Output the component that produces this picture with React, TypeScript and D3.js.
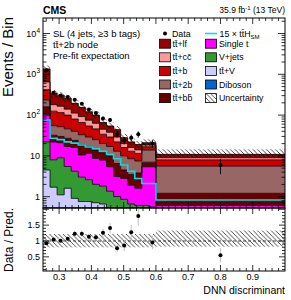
import React from "react";
import * as d3 from "d3";

// ---------- data ----------
const binEdges = [0.25, 0.271875, 0.29375, 0.315625, 0.3375, 0.359375, 0.38125, 0.403125, 0.425,
  0.446875, 0.46875, 0.490625, 0.5125, 0.534375, 0.55625, 0.578125, 0.6, 1.0];

const diboson = [0.02, 0.01, 0.01, 0.01, 0.01, 0.01, 0.01, 0.01, 0.01, 0.01, 0.01, 0.01, 0.01, 0.01, 0.01, 0.01, 0.01];
const ttV = [4.5, 1.7, 1.1, 1.6, 0.9, 0.75, 0.75, 0.7, 0.65, 0.5, 0.45, 0.4, 0.35, 0.3, 0.3, 0.3, 0.25];
const vJets = [17.5, 6.3, 7.9, 3.9, 3.3, 2.25, 1.85, 1.3, 1.15, 0.85, 0.55, 0.45, 0.3, 0.3, 0.3, 0.25, 0.15];
const singleT = [83, 14, 12, 11.5, 11.8, 7.5, 8.9, 6.7, 6.1, 4.05, 2.1, 1.95, 1.25, 1.0, 4.8, 4.85, 0.2];
const ttbb = [55, 10, 9, 10, 8, 8.5, 5.5, 5.3, 4.1, 4.6, 3.4, 1.7, 1.6, 2.2, 1.6, 1.6, 0.6];
const tt2b = [75, 23, 22, 19, 16, 14, 12, 11, 8, 7, 6.5, 5.5, 5, 3.7, 6.9, 6.9, 4.4];
const ttb = [185, 70, 63, 54, 40, 33, 25, 21, 14, 12, 9, 6, 4.5, 4, 2.9, 2.9, 2.4];
const ttcc = [230, 55, 50, 40, 32, 26, 21, 17, 11, 9, 7, 4, 3, 2.5, 1.7, 1.7, 1.0];
const ttlf = [705, 157, 135, 118, 82, 63, 46, 37, 21, 16, 15, 8, 6, 5, 2.5, 2.5, 1.9];

const ttHx15 = [76, 27, 25, 22, 20.5, 18.5, 16.5, 15, 13, 11, 8.5, 6, 4.2, 2.8, 2.1, 2.1, 0.83];

const dataCounts: (number | null)[] = [1260, 354, 303, 276, 239, 191, 137, 112, 83, 76, 34, 24, 28, 34, null, 20, 6];

const uncUp = [0.22, 0.22, 0.22, 0.22, 0.22, 0.22, 0.22, 0.22, 0.22, 0.22, 0.22, 0.22, 0.22, 0.22, 0.22, 0.22, 0.33];
const uncDown = [0.2, 0.2, 0.2, 0.2, 0.2, 0.2, 0.2, 0.2, 0.2, 0.2, 0.2, 0.2, 0.2, 0.2, 0.2, 0.2, 0.18];

const xTickLabels = ["0.3", "0.4", "0.5", "0.6", "0.7", "0.8", "0.9"];
const ratioTickLabels = ["0.5", "1", "1.5"];

const processKeys = ["diboson", "ttV", "vJets", "singleT", "ttbb", "tt2b", "ttb", "ttcc", "ttlf"];
const processValues: Record<string, number[]> = { diboson, ttV, vJets, singleT, ttbb, tt2b, ttb, ttcc, ttlf };
const processColors: Record<string, string> = {
  diboson: "#0066cc", ttV: "#ccccff", vJets: "#339933", singleT: "#ff00ff", ttbb: "#660000",
  tt2b: "#996666", ttb: "#cc0000", ttcc: "#ff9999", ttlf: "#990000",
};

// ---------- layout ----------
const W = 291, H = 300;
const L = 43, R = 285, T = 18, MB = 208, RB = 271;
const FONT = "'Liberation Sans', Arial, Helvetica, sans-serif";
const TT = "tt\u0304";

export default function App() {
  const x = d3.scaleLinear().domain([0.25, 1.0]).range([L, R]);
  const y = d3.scaleLog().domain([0.528, 24000]).range([MB, T]).clamp(true);
  const yr = d3.scaleLinear().domain([0.054, 2.04]).range([RB, MB]);

  const nb = binEdges.length - 1;
  const rows = d3.range(nb).map((i) => {
    const o: Record<string, number> = {};
    processKeys.forEach((k) => (o[k] = processValues[k][i]));
    return o;
  });
  const series = d3.stack<Record<string, number>>().keys(processKeys)(rows);
  const totals = rows.map((r) => d3.sum(processKeys, (k) => r[k]));

  const sy = (v: number) => y(Math.max(v, 1e-6));

  const stepPts = (s: any) => {
    const pts: [number, number, number][] = [];
    s.forEach((d: any, i: number) => {
      pts.push([binEdges[i], d[0], d[1]]);
      pts.push([binEdges[i + 1], d[0], d[1]]);
    });
    return pts;
  };
  const area = d3.area<[number, number, number]>().x((p) => x(p[0])).y0((p) => sy(p[1])).y1((p) => sy(p[2]));
  const topLine = d3.line<[number, number, number]>().x((p) => x(p[0])).y((p) => sy(p[2]));

  const sigPts: [number, number][] = [];
  ttHx15.forEach((v, i) => {
    sigPts.push([binEdges[i], v]);
    sigPts.push([binEdges[i + 1], v]);
  });
  const sigLine = d3.line<[number, number]>().x((p) => x(p[0])).y((p) => sy(p[1]));

  // ticks
  const xMajor = xTickLabels.map((t) => +t);
  const xMinor = d3.range(0.26, 1.0, 0.02).filter((v) => !xMajor.some((m) => Math.abs(m - v) < 1e-6));
  const yMajor = [1, 10, 100, 1000, 10000];
  const yMinor: number[] = [];
  for (let e = -1; e <= 4; e++) for (let k = 2; k <= 9; k++) {
    const v = k * Math.pow(10, e);
    if (v > 0.528 && v < 24000) yMinor.push(v);
  }
  const rMajor = [0.5, 1, 1.5, 2];
  const rMinor = d3.range(0.1, 2.04, 0.1).filter((v) => !rMajor.some((m) => Math.abs(m - v) < 1e-6));

  const centers = d3.range(nb).map((i) => (binEdges[i] + binEdges[i + 1]) / 2);

  return (
    <svg width={W} height={H} style={{ position: "absolute", left: 0, top: 0, background: "#fff" }} fontFamily={FONT}>
      <defs>
        <pattern id="hatch" patternUnits="userSpaceOnUse" width="4.5" height="4.5">
          <path d="M-1,-1 L5.5,5.5 M-1,3.5 L1,5.5 M3.5,-1 L5.5,1" stroke="#000" strokeWidth="0.7" />
        </pattern>
        <clipPath id="mainClip"><rect x={L} y={T} width={R - L} height={MB - T} /></clipPath>
        <clipPath id="ratioClip"><rect x={L} y={MB} width={R - L} height={RB - MB} /></clipPath>
      </defs>
      <rect width={W} height={H} fill="#fff" />

      {/* main panel */}
      <g clipPath="url(#mainClip)">
        {series.map((s) => (
          <path key={s.key} d={area(stepPts(s)) || ""} fill={processColors[s.key]} />
        ))}
        {series.map((s) => (
          <path key={s.key + "l"} d={topLine(stepPts(s)) || ""} fill="none" stroke="#000" strokeWidth={0.8} />
        ))}
        {totals.map((t, i) => (
          <rect key={"u" + i} x={x(binEdges[i])} width={x(binEdges[i + 1]) - x(binEdges[i])}
            y={sy(t * (1 + uncUp[i]))} height={sy(t * (1 - uncDown[i])) - sy(t * (1 + uncUp[i]))} fill="url(#hatch)" />
        ))}
        <path d={sigLine(sigPts) || ""} fill="none" stroke="#00e0e8" strokeWidth={1.6} />
        {dataCounts.map((d, i) => d == null ? null : (
          <g key={"d" + i}>
            <line x1={x(centers[i])} x2={x(centers[i])} y1={sy(d - Math.sqrt(d))} y2={sy(d + Math.sqrt(d))} stroke="#000" strokeWidth={0.9} />
            <circle cx={x(centers[i])} cy={sy(d)} r={2} fill="#000" />
          </g>
        ))}
      </g>

      {/* main frame + ticks */}
      <rect x={L} y={T} width={R - L} height={MB - T} fill="none" stroke="#000" strokeWidth={1} />
      {xMajor.map((v) => (
        <g key={"mx" + v}>
          <line x1={x(v)} x2={x(v)} y1={MB} y2={MB - 6} stroke="#000" strokeWidth={0.8} />
          <line x1={x(v)} x2={x(v)} y1={T} y2={T + 6} stroke="#000" strokeWidth={0.8} />
        </g>
      ))}
      {xMinor.map((v) => (
        <g key={"mnx" + v}>
          <line x1={x(v)} x2={x(v)} y1={MB} y2={MB - 3} stroke="#000" strokeWidth={0.8} />
          <line x1={x(v)} x2={x(v)} y1={T} y2={T + 3} stroke="#000" strokeWidth={0.8} />
        </g>
      ))}
      {yMajor.map((v) => (
        <g key={"my" + v}>
          <line x1={L} x2={L + 7} y1={y(v)} y2={y(v)} stroke="#000" strokeWidth={0.8} />
          <line x1={R} x2={R - 7} y1={y(v)} y2={y(v)} stroke="#000" strokeWidth={0.8} />
          <text x={40} y={y(v) + 3} fontSize={9} textAnchor="end">
            {v < 100 ? String(v) : (
              <>
                10<tspan dy={-4} fontSize={6.5}>{String(Math.round(Math.log10(v)))}</tspan>
              </>
            )}
          </text>
        </g>
      ))}
      {yMinor.map((v) => (
        <g key={"mny" + v}>
          <line x1={L} x2={L + 3.5} y1={y(v)} y2={y(v)} stroke="#000" strokeWidth={0.8} />
          <line x1={R} x2={R - 3.5} y1={y(v)} y2={y(v)} stroke="#000" strokeWidth={0.8} />
        </g>
      ))}

      {/* ratio panel */}
      <g clipPath="url(#ratioClip)">
        {totals.map((t, i) => (
          <rect key={"ru" + i} x={x(binEdges[i])} width={x(binEdges[i + 1]) - x(binEdges[i])}
            y={yr(1 + uncUp[i])} height={yr(1 - uncDown[i]) - yr(1 + uncUp[i])} fill="url(#hatch)" />
        ))}
        <line x1={L} x2={R} y1={yr(1)} y2={yr(1)} stroke="#000" strokeWidth={0.7} strokeDasharray="3,2" />
        {dataCounts.map((d, i) => {
          if (d == null) return null;
          const r = d / totals[i];
          const e = Math.sqrt(d) / totals[i];
          return (
            <g key={"r" + i}>
              <line x1={x(centers[i])} x2={x(centers[i])} y1={yr(r - e)} y2={yr(r + e)} stroke="#bbb" strokeWidth={0.9} />
              <circle cx={x(centers[i])} cy={yr(r)} r={2} fill="#000" />
            </g>
          );
        })}
      </g>
      <rect x={L} y={MB} width={R - L} height={RB - MB} fill="none" stroke="#000" strokeWidth={1} />
      {xMajor.map((v, i) => (
        <g key={"rx" + v}>
          <line x1={x(v)} x2={x(v)} y1={RB} y2={RB - 6} stroke="#000" strokeWidth={0.8} />
          <line x1={x(v)} x2={x(v)} y1={MB} y2={MB + 6} stroke="#000" strokeWidth={0.8} />
          <text x={x(v)} y={280} fontSize={9} textAnchor="middle">{xTickLabels[i]}</text>
        </g>
      ))}
      {xMinor.map((v) => (
        <g key={"rnx" + v}>
          <line x1={x(v)} x2={x(v)} y1={RB} y2={RB - 3} stroke="#000" strokeWidth={0.8} />
          <line x1={x(v)} x2={x(v)} y1={MB} y2={MB + 3} stroke="#000" strokeWidth={0.8} />
        </g>
      ))}
      {rMajor.map((v) => (
        <g key={"rmy" + v}>
          <line x1={L} x2={L + 6} y1={yr(v)} y2={yr(v)} stroke="#000" strokeWidth={0.8} />
          <line x1={R} x2={R - 6} y1={yr(v)} y2={yr(v)} stroke="#000" strokeWidth={0.8} />
        </g>
      ))}
      {ratioTickLabels.map((t) => (
        <text key={"rl" + t} x={40} y={yr(+t) + 3} fontSize={9} textAnchor="end">{t}</text>
      ))}
      {rMinor.map((v) => (
        <g key={"rmny" + v}>
          <line x1={L} x2={L + 3} y1={yr(v)} y2={yr(v)} stroke="#000" strokeWidth={0.8} />
          <line x1={R} x2={R - 3} y1={yr(v)} y2={yr(v)} stroke="#000" strokeWidth={0.8} />
        </g>
      ))}

      {/* titles */}
      <text x={43} y={14} fontSize={10.5} fontWeight="bold">CMS</text>
      <text x={285} y={13} fontSize={8.5} textAnchor="end">
        35.9 fb<tspan dy={-3} fontSize={6}>-1</tspan><tspan dy={3}> (13 TeV)</tspan>
      </text>
      <text transform={`translate(13,17) rotate(-90)`} fontSize={15} textAnchor="end">Events / Bin</text>
      <text transform={`translate(13,240) rotate(-90)`} fontSize={12} textAnchor="middle">Data / Pred.</text>
      <text x={285} y={294} fontSize={10.5} textAnchor="end">DNN discriminant</text>

      {/* info text */}
      <text x={53} y={37} fontSize={9.5}>SL (4 jets, ≥3 b tags)</text>
      <text x={53} y={48} fontSize={9.5}>{TT}+2b node</text>
      <text x={53} y={59} fontSize={9.5}>Pre-fit expectation</text>

      {/* legend */}
      <circle cx={165} cy={33.5} r={2} fill="#000" />
      <text x={172} y={36.5} fontSize={8.8}>Data</text>
      <line x1={205} x2={217} y1={33.5} y2={33.5} stroke="#00e0e8" strokeWidth={1.6} />
      <text x={219.5} y={36.5} fontSize={8.8}>15 × {TT}H<tspan dy={2} fontSize={6}>SM</tspan></text>
      {[
        ["ttlf", TT + "+lf", "singleT", "Single t"],
        ["ttcc", TT + "+c" + "c\u0304", "vJets", "V+jets"],
        ["ttb", TT + "+b", "ttV", TT + "+V"],
        ["tt2b", TT + "+2b", "diboson", "Diboson"],
        ["ttbb", TT + "+b" + "b\u0304", "unc", "Uncertainty"],
      ].map((row, i) => {
        const cy = 43.7 + i * 13.6;
        return (
          <g key={"lg" + i}>
            <rect x={159.5} y={cy - 4.5} width={11} height={9} fill={processColors[row[0]]} stroke="#000" strokeWidth={0.8} />
            <text x={172.5} y={cy + 3} fontSize={8.8}>{row[1]}</text>
            <rect x={205.5} y={cy - 4.5} width={11} height={9}
              fill={row[2] === "unc" ? "url(#hatch)" : processColors[row[2]]} stroke="#000" strokeWidth={0.8} />
            <text x={219} y={cy + 3} fontSize={8.8}>{row[3]}</text>
          </g>
        );
      })}
    </svg>
  );
}
